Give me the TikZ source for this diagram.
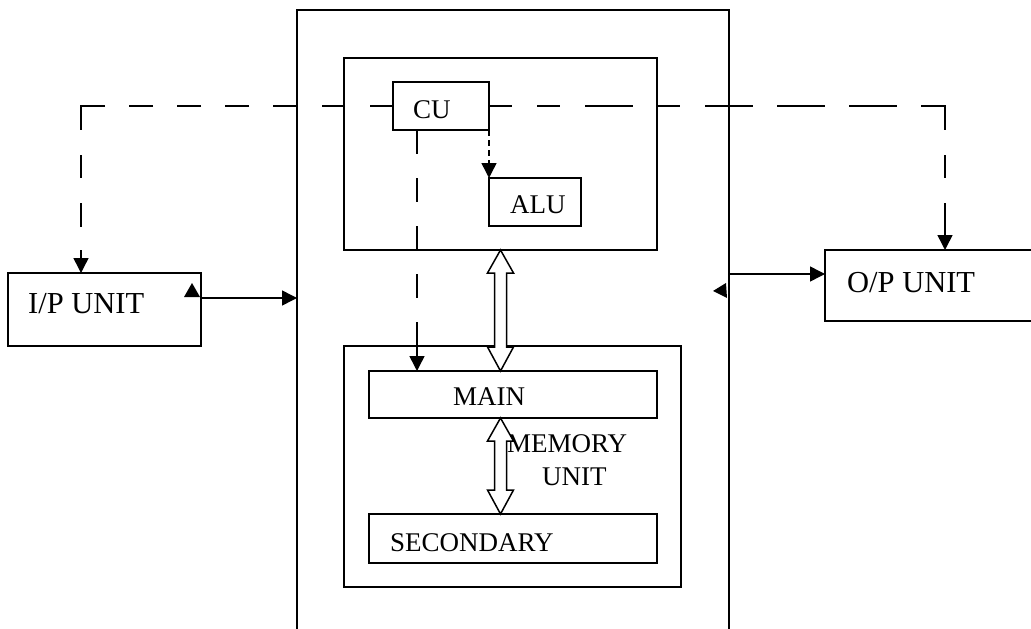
\documentclass[tikz,border=0pt]{standalone}
\usepackage{fontspec}
\setmainfont{Liberation Serif}
\usetikzlibrary{arrows.meta,calc}
\tikzset{
  box/.style={draw, line width=1.5pt, inner sep=0pt, outer sep=0pt, anchor=north west, fill=white},
  lbl/.style={inner sep=0pt, anchor=base west, font=\fontsize{27}{32}\selectfont},
  biglbl/.style={inner sep=0pt, anchor=base west, font=\fontsize{30.5}{36}\selectfont},
  conn/.style={line width=1.5pt, -{Triangle[length=15pt,width=15pt]}},
  hollow/.style={draw, line width=1.5pt, fill=white, line join=miter},
}
\newcommand\hollowdbl[2]{%
  \draw[hollow] (#1) -- ($(#1)+(13,23)$) -- ($(#1)+(6,23)$) -- ($(#2)+(6,-24)$)
    -- ($(#2)+(13,-24)$) -- (#2) -- ($(#2)+(-13,-24)$) -- ($(#2)+(-6,-24)$)
    -- ($(#1)+(-6,23)$) -- ($(#1)+(-13,23)$) -- cycle;}
\begin{document}
\begin{tikzpicture}[x=1pt,y=-1pt]
\useasboundingbox (0,0) rectangle (1031,629);
\begin{scope}
\clip (0,0) rectangle (1031,629);
% boxes
\node[box, minimum width=432pt, minimum height=650pt] (comp) at (297,10) {};
\node[box, minimum width=313pt, minimum height=192pt] (cpu) at (344,58) {};
\node[box, minimum width=96pt, minimum height=48pt] (cu) at (393,82) {};
\node[box, minimum width=92pt, minimum height=48pt] (alu) at (489,178) {};
\node[box, minimum width=337pt, minimum height=241pt] (mem) at (344,346) {};
\node[box, minimum width=288pt, minimum height=47pt] (main) at (369,371) {};
\node[box, minimum width=288pt, minimum height=49pt] (sec) at (369,514) {};
\node[box, minimum width=193pt, minimum height=73pt] (ip) at (8,273) {};
\node[box, minimum width=240pt, minimum height=71pt] (op) at (825,250) {};
% labels
\node[lbl] (tcu) at (413,118) {CU};
\node[lbl] (talu) at (510,213) {ALU};
\node[lbl] (tmain) at (453,405) {MAIN};
\node[lbl] (tmem) at (507,452) {MEMORY};
\node[lbl] (tunit) at (542,485) {UNIT};
\node[lbl] (tsec) at (390,551) {SECONDARY};
\node[biglbl] (tip) at (28,313) {I/P UNIT};
\node[biglbl] (top) at (847,292) {O/P UNIT};
% dashed control lines
\coordinate (dl) at (81,106);
\coordinate (dr) at (945,106);
\draw[conn, dash pattern=on 23pt off 25pt on 23pt off 25pt on 24pt off 24pt on 24pt off 24pt on 24pt off 24pt on 24pt off 24pt on 48pt off 25pt on 23pt off 25pt on 24pt off 23pt on 100pt off 100pt]
  (cu.west) -- (dl) -- (ip.north -| dl);
\draw[conn, dash pattern=on 23pt off 25pt on 23pt off 25pt on 48pt off 24pt on 23pt off 25pt on 48pt off 24pt on 48pt off 24pt on 48pt off 24pt on 48pt off 25pt on 23pt off 25pt on 60pt off 100pt]
  (cu.east) -- (dr) -- (op.north -| dr);
\coordinate (cx) at (417,0);
\draw[conn, dash pattern=on 24pt off 24pt on 24pt off 24pt on 24pt off 24pt on 24pt off 24pt on 100pt off 100pt]
  (cu.south -| cx) -- (main.north -| cx);
\draw[conn, dash pattern=on 6pt off 4pt] (cu.south east) -- (alu.north west);
% data arrows
\coordinate (iy) at (0,298);
\coordinate (oy) at (0,274);
\draw[conn] (ip.east |- iy) -- (comp.west |- iy);
\draw[conn] (comp.east |- oy) -- (op.west |- oy);
\fill (184,297) -- (200,297) -- (192,283) -- cycle;
\fill (713,291) -- (726,283) -- (727,298) -- cycle;
% hollow double arrows
\hollowdbl{cpu.south}{main.north -| cpu.south}
\hollowdbl{main.south -| cpu.south}{sec.north -| cpu.south}
\end{scope}
\end{tikzpicture}
\end{document}
